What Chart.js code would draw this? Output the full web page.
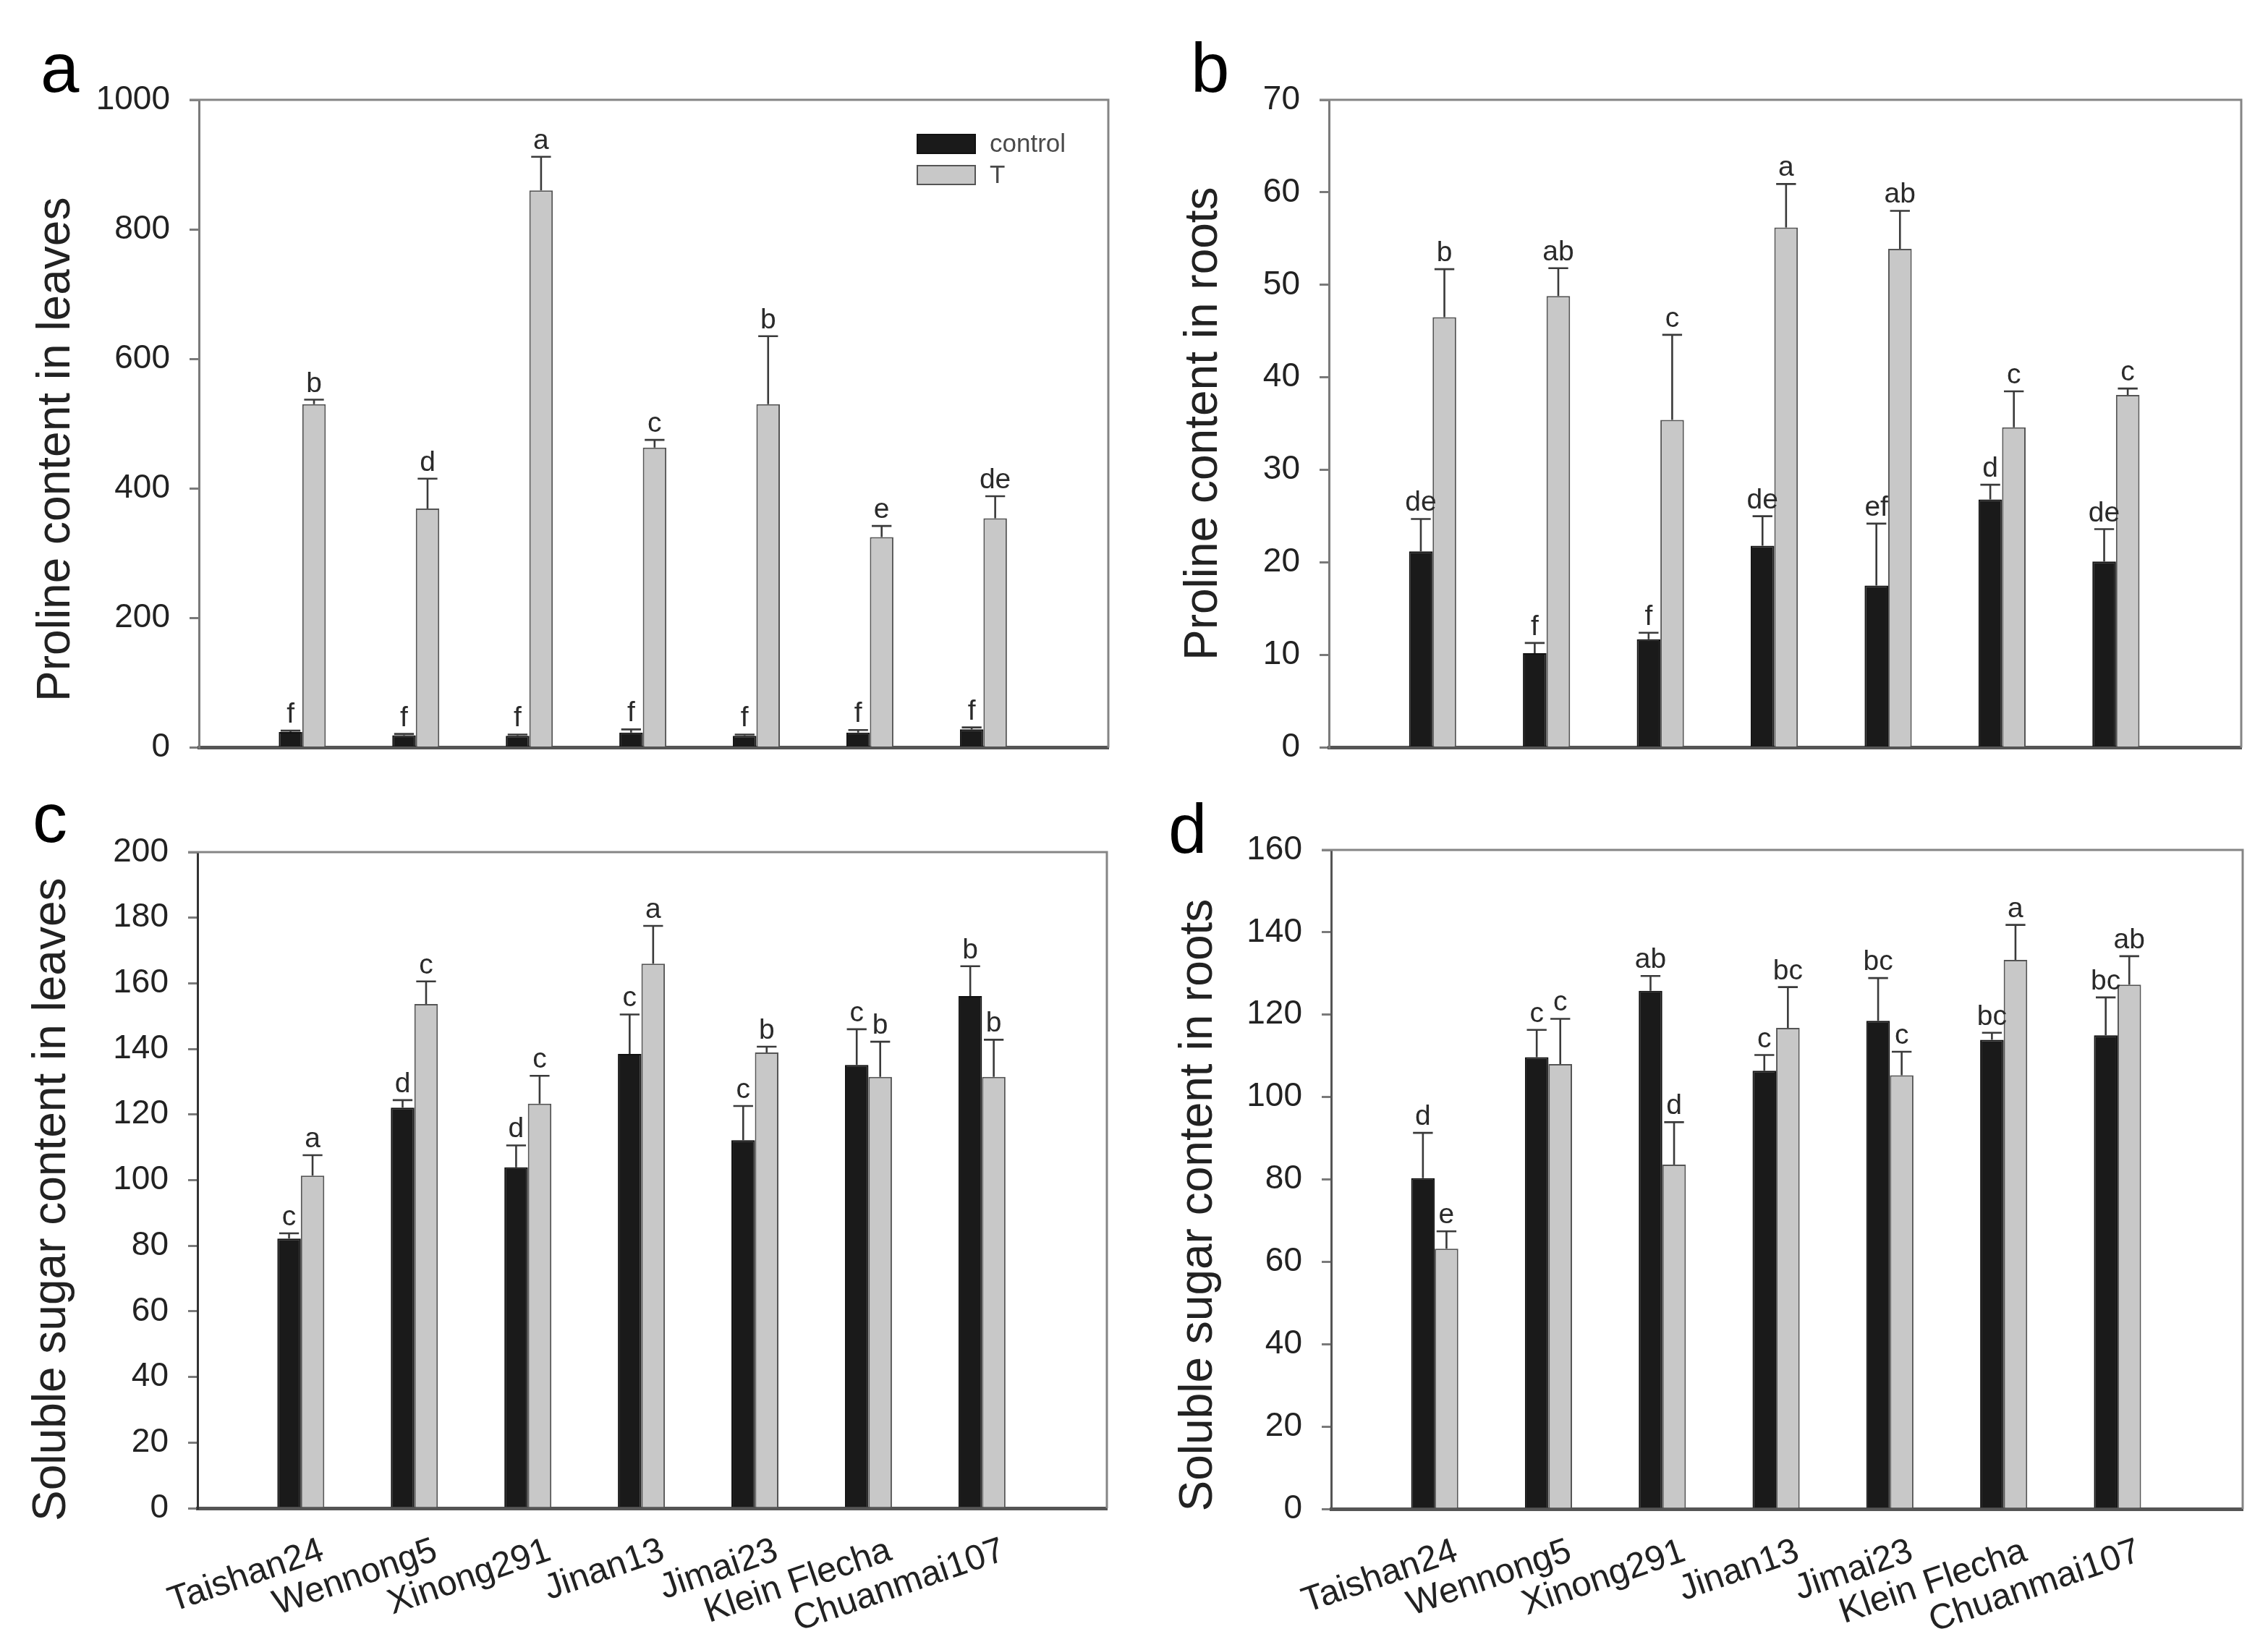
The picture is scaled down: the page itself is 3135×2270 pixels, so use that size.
<!DOCTYPE html>
<html>
<head>
<meta charset="utf-8">
<script src="https://cdn.jsdelivr.net/npm/chart.js@4.4.1/dist/chart.umd.min.js"></script>
<style>
html,body{margin:0;padding:0;background:#ffffff;width:3135px;height:2270px;overflow:hidden}
canvas{position:absolute;display:block}
</style>
</head>
<body>
<canvas id="pa" width="1568" height="1088" style="left:0px;top:0px;width:1568px;height:1088px"></canvas>
<canvas id="pb" width="1568" height="1088" style="left:1567px;top:0px;width:1568px;height:1088px"></canvas>
<canvas id="pc" width="1568" height="1182" style="left:0px;top:1088px;width:1568px;height:1182px"></canvas>
<canvas id="pd" width="1568" height="1182" style="left:1567px;top:1088px;width:1568px;height:1182px"></canvas>
<script>
// ---------- data ----------
const cultivars = ['Taishan24', 'Wennong5', 'Xinong291', 'Jinan13', 'Jimai23', 'Klein Flecha', 'Chuanmai107'];
const seriesNames = ['control', 'T'];

// a: Proline content in leaves
const prolineLeavesControl      = [24, 19, 18, 23, 18, 23, 28];
const prolineLeavesControlErr   = [2, 2, 2, 5, 2, 4, 3];
const prolineLeavesControlSig   = ['f', 'f', 'f', 'f', 'f', 'f', 'f'];
const prolineLeavesT            = [530, 369, 860, 463, 530, 325, 354];
const prolineLeavesTErr         = [7, 46, 52, 12, 105, 17, 34];
const prolineLeavesTSig         = ['b', 'd', 'a', 'c', 'b', 'e', 'de'];
const prolineLeavesTicks        = [0, 200, 400, 600, 800, 1000];

// b: Proline content in roots
const prolineRootsControl       = [21.2, 10.2, 11.7, 21.8, 17.5, 26.8, 20.1];
const prolineRootsControlErr    = [3.5, 1.1, 0.7, 3.2, 6.7, 1.6, 3.5];
const prolineRootsControlSig    = ['de', 'f', 'f', 'de', 'ef', 'd', 'de'];
const prolineRootsT             = [46.5, 48.8, 35.4, 56.2, 53.9, 34.6, 38.1];
const prolineRootsTErr          = [5.2, 3.0, 9.2, 4.7, 4.1, 3.9, 0.7];
const prolineRootsTSig          = ['b', 'ab', 'c', 'a', 'ab', 'c', 'c'];
const prolineRootsTicks         = [0, 10, 20, 30, 40, 50, 60, 70];

// c: Soluble sugar content in leaves
const sugarLeavesControl        = [82.2, 122.1, 103.9, 138.5, 112.2, 135.1, 156.1];
const sugarLeavesControlErr     = [1.6, 2.3, 6.7, 12.0, 10.4, 10.9, 9.1];
const sugarLeavesControlSig     = ['c', 'd', 'd', 'c', 'c', 'c', 'b'];
const sugarLeavesT              = [101.4, 153.7, 123.3, 166.0, 138.9, 131.5, 131.5];
const sugarLeavesTErr           = [6.2, 6.9, 8.5, 11.5, 1.8, 10.7, 11.3];
const sugarLeavesTSig           = ['a', 'c', 'c', 'a', 'b', 'b', 'b'];
const sugarLeavesTicks          = [0, 20, 40, 60, 80, 100, 120, 140, 160, 180, 200];

// d: Soluble sugar content in roots
const sugarRootsControl         = [80.3, 109.7, 125.8, 106.4, 118.5, 113.9, 115.0];
const sugarRootsControlErr      = [11.0, 6.6, 3.6, 3.8, 10.4, 1.7, 9.2];
const sugarRootsControlSig      = ['d', 'c', 'ab', 'c', 'bc', 'bc', 'bc'];
const sugarRootsT               = [63.2, 108.0, 83.6, 116.8, 105.3, 133.3, 127.3];
const sugarRootsTErr            = [4.2, 11.0, 10.3, 9.9, 5.7, 8.5, 6.9];
const sugarRootsTSig            = ['e', 'c', 'd', 'bc', 'c', 'a', 'ab'];
const sugarRootsTicks           = [0, 20, 40, 60, 80, 100, 120, 140, 160];

// ---------- styling ----------
const FONT = "'Liberation Sans', Arial, Helvetica, sans-serif";
const CONTROL_FILL = '#1a1a1a';
const T_FILL = '#c8c8c8';

// error bars + significance letters
const annotPlugin = {
  id: 'annot',
  afterDatasetsDraw(chart, args, opts) {
    const ctx = chart.ctx;
    const ys = chart.scales.y;
    chart.data.datasets.forEach((ds, di) => {
      const meta = chart.getDatasetMeta(di);
      meta.data.forEach((bar, i) => {
        const p = bar.getProps(['x', 'width'], true);
        const v = ds.data[i].y;
        const e = ds.errors[i];
        const base = ys.getPixelForValue(v);
        const top = ys.getPixelForValue(v + e);
        const half = p.width * 0.42;
        ctx.save();
        ctx.strokeStyle = '#3a3a3a';
        ctx.lineWidth = 2.6;
        ctx.beginPath();
        ctx.moveTo(p.x, base);
        ctx.lineTo(p.x, top);
        ctx.moveTo(p.x - half, top);
        ctx.lineTo(p.x + half, top);
        ctx.stroke();
        ctx.fillStyle = '#2a2a2a';
        ctx.font = '39px ' + FONT;
        ctx.textAlign = 'center';
        ctx.textBaseline = 'alphabetic';
        ctx.fillText(ds.letters[i], p.x, top - 11);
        ctx.restore();
      });
    });
  }
};

// top / right frame of the plot area
const framePlugin = {
  id: 'frame',
  afterDatasetsDraw(chart) {
    const {ctx, chartArea: a} = chart;
    ctx.save();
    ctx.strokeStyle = '#858585';
    ctx.lineWidth = 3;
    ctx.beginPath();
    ctx.moveTo(a.left - 13, a.top);
    ctx.lineTo(a.right, a.top);
    ctx.lineTo(a.right, a.bottom);
    ctx.stroke();
    ctx.restore();
  }
};

// panel letter (a, b, c, d)
const panelLabelPlugin = {
  id: 'panelLabel',
  afterDraw(chart, args, opts) {
    if (!opts || !opts.text) return;
    const ctx = chart.ctx;
    ctx.save();
    ctx.fillStyle = '#000';
    ctx.font = '96px ' + FONT;
    ctx.textAlign = 'left';
    ctx.textBaseline = 'alphabetic';
    ctx.fillText(opts.text, opts.x, opts.y);
    ctx.restore();
  }
};

// in-plot legend (panel a)
const boxLegendPlugin = {
  id: 'boxLegend',
  afterDraw(chart, args, opts) {
    if (!opts || !opts.show) return;
    const {ctx, chartArea: a} = chart;
    ctx.save();
    chart.data.datasets.forEach((ds, i) => {
      const x = a.left + opts.dx;
      const y = a.top + opts.dy + i * opts.step;
      ctx.fillStyle = ds.backgroundColor;
      ctx.fillRect(x, y, opts.w, opts.h);
      ctx.strokeStyle = ds.borderColor;
      ctx.lineWidth = 2;
      ctx.strokeRect(x + 1, y + 1, opts.w - 2, opts.h - 2);
      ctx.fillStyle = '#4a4a4a';
      ctx.font = '35px ' + FONT;
      ctx.textAlign = 'left';
      ctx.textBaseline = 'middle';
      ctx.fillText(ds.label, x + opts.w + 19, y + opts.h / 2 + 1);
    });
    ctx.restore();
  }
};

function pts(vals) { return vals.map((v, i) => ({x: i + 1, y: v})); }

function makeChart(id, cfg) {
  const canvas = document.getElementById(id);
  const W = canvas.width, H = canvas.height;
  return new Chart(canvas, {
    type: 'bar',
    data: {
      datasets: [
        { label: seriesNames[0], data: pts(cfg.ctrl), errors: cfg.ctrlErr, letters: cfg.ctrlSig,
          backgroundColor: CONTROL_FILL, borderColor: '#111111', borderWidth: 2 },
        { label: seriesNames[1], data: pts(cfg.trt), errors: cfg.trtErr, letters: cfg.trtSig,
          backgroundColor: T_FILL, borderColor: '#555555', borderWidth: 2 }
      ]
    },
    options: {
      responsive: false,
      animation: false,
      devicePixelRatio: 1,
      barPercentage: 1.0,
      categoryPercentage: 0.414,
      layout: { padding: { left: 0, top: cfg.top, right: W - cfg.right, bottom: 0 } },
      plugins: {
        legend: { display: false },
        tooltip: { enabled: false },
        panelLabel: cfg.panel,
        boxLegend: cfg.legend || { show: false }
      },
      scales: {
        x: {
          type: 'linear',
          min: 0.09,
          max: 8.1,
          offset: false,
          grid: { display: false, drawTicks: false, offset: false },
          border: { display: true, color: '#555555', width: 5 },
          ticks: {
            display: cfg.showNames,
            stepSize: 1,
            includeBounds: false,
            autoSkip: false,
            minRotation: 19,
            maxRotation: 19,
            padding: 30,
            labelOffset: 30,
            color: '#222222',
            font: { family: FONT, size: 49 },
            callback: (v) => {
              const k = Math.round(v);
              return (Math.abs(v - k) < 1e-6 && cultivars[k - 1]) ? cultivars[k - 1] : '';
            }
          },
          afterFit(s) { s.height = H - cfg.bottom; }
        },
        y: {
          min: cfg.ticks[0],
          max: cfg.ticks[cfg.ticks.length - 1],
          afterBuildTicks(s) { s.ticks = cfg.ticks.map(v => ({value: v})); },
          grid: { display: true, drawOnChartArea: false, drawTicks: true, tickLength: 13,
                  color: '#7a7a7a', lineWidth: 3 },
          border: { display: true, color: cfg.leftColor, width: 3 },
          ticks: { padding: 27, color: '#222222', font: { family: FONT, size: 46 },
                   callback: (v) => String(v) },
          title: { display: true, text: cfg.title, color: '#222222',
                   font: { family: FONT, size: 64 }, padding: { top: cfg.titlePad, bottom: 0 } },
          afterFit(s) { s.width = cfg.left; }
        }
      }
    },
    plugins: [annotPlugin, framePlugin, panelLabelPlugin, boxLegendPlugin]
  });
}

makeChart('pa', {
  ctrl: prolineLeavesControl, ctrlErr: prolineLeavesControlErr, ctrlSig: prolineLeavesControlSig,
  trt: prolineLeavesT, trtErr: prolineLeavesTErr, trtSig: prolineLeavesTSig,
  ticks: prolineLeavesTicks, title: 'Proline content in leaves    ',
  left: 275, right: 1532, top: 138, bottom: 1045, titlePad: 40, leftColor: '#7a7a7a',
  showNames: false, panel: { text: 'a', x: 56, y: 127 },
  legend: { show: true, dx: 992, dy: 47, step: 43, w: 82, h: 28 }
});
makeChart('pb', {
  ctrl: prolineRootsControl, ctrlErr: prolineRootsControlErr, ctrlSig: prolineRootsControlSig,
  trt: prolineRootsT, trtErr: prolineRootsTErr, trtSig: prolineRootsTSig,
  ticks: prolineRootsTicks, title: 'Proline content in roots',
  left: 270, right: 1531, top: 138, bottom: 1046, titlePad: 59, leftColor: '#7a7a7a',
  showNames: false, panel: { text: 'b', x: 79, y: 127 }
});
makeChart('pc', {
  ctrl: sugarLeavesControl, ctrlErr: sugarLeavesControlErr, ctrlSig: sugarLeavesControlSig,
  trt: sugarLeavesT, trtErr: sugarLeavesTErr, trtSig: sugarLeavesTSig,
  ticks: sugarLeavesTicks, title: 'Soluble sugar content in leaves   ',
  left: 273, right: 1530, top: 90, bottom: 997, titlePad: 34, leftColor: '#333333',
  showNames: true, panel: { text: 'c', x: 45, y: 76 }
});
makeChart('pd', {
  ctrl: sugarRootsControl, ctrlErr: sugarRootsControlErr, ctrlSig: sugarRootsControlSig,
  trt: sugarRootsT, trtErr: sugarRootsTErr, trtSig: sugarRootsTSig,
  ticks: sugarRootsTicks, title: 'Soluble sugar content in roots    ',
  left: 273, right: 1533, top: 87, bottom: 998, titlePad: 52, leftColor: '#555555',
  showNames: true, panel: { text: 'd', x: 48, y: 91 }
});
</script>
</body>
</html>
